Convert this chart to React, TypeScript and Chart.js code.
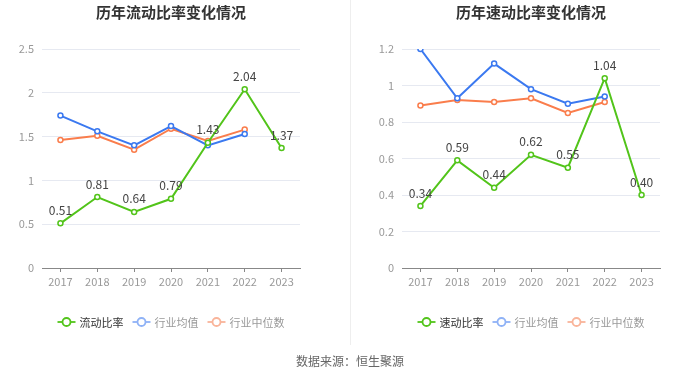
import React, { useEffect, useRef } from "react";
import { Chart, registerables } from "chart.js";
Chart.register(...registerables);

const years = ["2017", "2018", "2019", "2020", "2021", "2022", "2023"];
const currentRatio = [0.51, 0.81, 0.64, 0.79, 1.43, 2.04, 1.37];
const currentIndustryAvg = [1.74, 1.56, 1.4, 1.62, 1.4, 1.53, null];
const currentIndustryMedian = [1.46, 1.51, 1.35, 1.59, 1.45, 1.58, null];
const quickRatio = [0.34, 0.59, 0.44, 0.62, 0.55, 1.04, 0.4];
const quickIndustryAvg = [1.2, 0.93, 1.12, 0.98, 0.9, 0.94, null];
const quickIndustryMedian = [0.89, 0.92, 0.91, 0.93, 0.85, 0.91, null];
const currentAxis = { max: 2.5, step: 0.5 };
const quickAxis = { max: 1.2, step: 0.2 };

const FONT = '"Noto Sans CJK SC", "Noto Sans", sans-serif';
const GREEN = "#52c41a";
const BLUE = "#3b79f0";
const ORANGE = "#fa7d4c";

type Props = {
  title: string;
  names: string[];
  main: number[];
  avg: (number | null)[];
  median: (number | null)[];
  axis: { max: number; step: number };
  yWidth: number;
  padRight: number;
};

function LineChart(p: Props) {
  const ref = useRef<HTMLCanvasElement | null>(null);
  useEffect(() => {
    if (!ref.current) return;
    const legendColors = [
      { line: GREEN, text: "#333" },
      { line: "#8fb2f6", text: "#999" },
      { line: "#f9b49a", text: "#999" },
    ];
    const plugin = {
      id: "custom",
      afterDatasetsDraw(chart: any) {
        const ctx = chart.ctx;
        const meta = chart.getDatasetMeta(0);
        ctx.save();
        ctx.font = `12px ${FONT}`;
        ctx.fillStyle = "#444";
        ctx.textAlign = "center";
        ctx.textBaseline = "middle";
        meta.data.forEach((pt: any, i: number) => {
          ctx.fillText(p.main[i].toFixed(2), pt.x, pt.y - 13);
        });
        ctx.restore();
      },
      afterDraw(chart: any) {
        const ctx = chart.ctx;
        const ca = chart.chartArea;
        const cx = (ca.left + ca.right) / 2;
        ctx.save();
        ctx.font = `bold 15px ${FONT}`;
        ctx.fillStyle = "#333";
        ctx.textAlign = "center";
        ctx.textBaseline = "middle";
        ctx.fillText(p.title, cx, 12);
        ctx.font = `11px ${FONT}`;
        const iconW = 18, gapIT = 4, gapItem = 9;
        const widths = p.names.map((n) => ctx.measureText(n).width);
        const total = widths.reduce((a, b) => a + b, 0) + p.names.length * (iconW + gapIT) + (p.names.length - 1) * gapItem;
        let x = cx - total / 2;
        const y = 322;
        p.names.forEach((n, i) => {
          const c = legendColors[i];
          ctx.strokeStyle = c.line;
          ctx.lineWidth = 1.8;
          ctx.beginPath();
          ctx.moveTo(x, y);
          ctx.lineTo(x + iconW, y);
          ctx.stroke();
          ctx.beginPath();
          ctx.arc(x + iconW / 2, y, 4, 0, Math.PI * 2);
          ctx.fillStyle = "#fff";
          ctx.fill();
          ctx.stroke();
          ctx.fillStyle = c.text;
          ctx.textAlign = "left";
          ctx.fillText(n, x + iconW + gapIT, y + 0.5);
          x += iconW + gapIT + widths[i] + gapItem;
        });
        ctx.restore();
      },
    };
    const mk = (label: string, data: any, color: string) => ({
      label,
      data,
      borderColor: color,
      backgroundColor: "#fff",
      borderWidth: 2,
      pointRadius: 2.5,
      pointBorderWidth: 1.5,
      pointBackgroundColor: "#fff",
      pointBorderColor: color,
      tension: 0,
      spanGaps: false,
    });
    const chart = new Chart(ref.current, {
      type: "line",
      data: {
        labels: years,
        datasets: [mk(p.names[0], p.main, GREEN), mk(p.names[1], p.avg, BLUE), mk(p.names[2], p.median, ORANGE)],
      },
      options: {
        animation: false,
        responsive: false,
        maintainAspectRatio: false,
        layout: { padding: { top: 49, right: p.padRight, bottom: 80, left: 0 } },
        plugins: { legend: { display: false }, title: { display: false }, tooltip: { enabled: false } },
        scales: {
          x: {
            offset: true,
            afterFit: (s: any) => { s.height = 30; },
            grid: { display: true, drawOnChartArea: false, drawTicks: true, tickLength: 4, color: "#888", offset: false },
            border: { display: true, color: "#888", width: 1 },
            ticks: { color: "#999", font: { size: 11, family: FONT }, padding: 3, maxRotation: 0 },
          },
          y: {
            min: 0,
            max: p.axis.max,
            afterFit: (s: any) => { s.width = p.yWidth; },
            grid: { color: "#e6e9f1", drawTicks: false },
            border: { display: false },
            ticks: {
              stepSize: p.axis.step,
              color: "#999",
              font: { size: 11, family: FONT },
              padding: 8,
              callback: (v: any) => String(Math.round(Number(v) * 10) / 10),
            },
          },
        },
      } as any,
      plugins: [plugin],
    });
    return () => chart.destroy();
  }, []);
  return <canvas ref={ref} width={350} height={378} style={{ width: 350, height: 378, display: "block" }} />;
}

export default function App() {
  return (
    <div style={{ position: "fixed", left: 0, top: 0, width: 700, height: 378, background: "#fff", overflow: "hidden" }}>
      <div style={{ position: "absolute", left: 0, top: 0 }}>
        <LineChart
          title="历年流动比率变化情况"
          names={["流动比率", "行业均值", "行业中位数"]}
          main={currentRatio}
          avg={currentIndustryAvg}
          median={currentIndustryMedian}
          axis={currentAxis}
          yWidth={42}
          padRight={50}
        />
      </div>
      <div style={{ position: "absolute", left: 350, top: 0 }}>
        <LineChart
          title="历年速动比率变化情况"
          names={["速动比率", "行业均值", "行业中位数"]}
          main={quickRatio}
          avg={quickIndustryAvg}
          median={quickIndustryMedian}
          axis={quickAxis}
          yWidth={52}
          padRight={40}
        />
      </div>
      <div style={{ position: "absolute", left: 350, top: 0, width: 1, height: 345, background: "#eee" }} />
      <div
        style={{
          position: "absolute",
          left: 0,
          width: 700,
          top: 352,
          textAlign: "center",
          font: `12px ${FONT}`,
          color: "#666",
          lineHeight: "18px",
        }}
      >
        数据来源：恒生聚源
      </div>
    </div>
  );
}
